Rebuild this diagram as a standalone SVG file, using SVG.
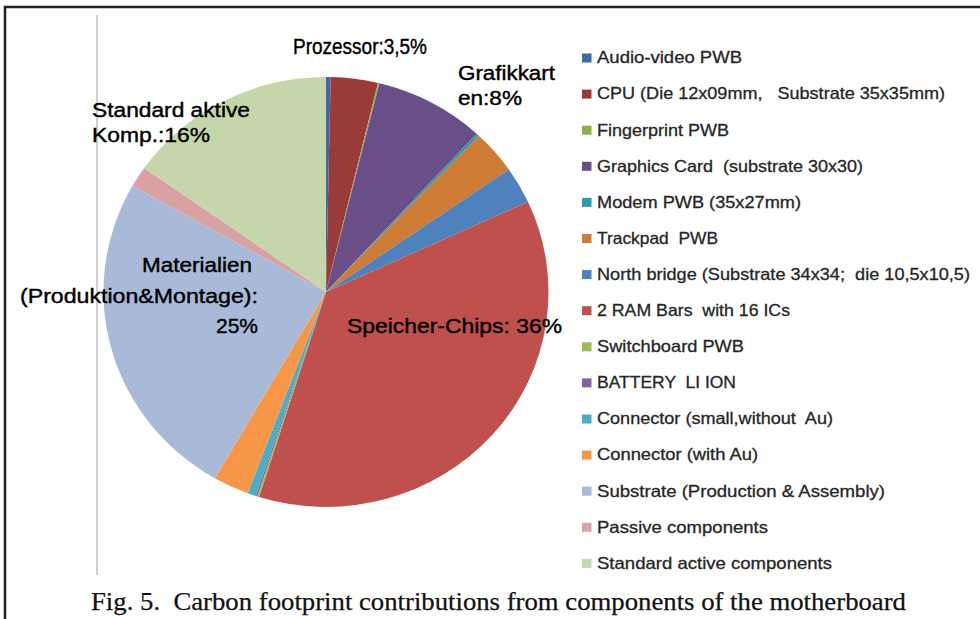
<svg xmlns="http://www.w3.org/2000/svg" width="980" height="619" viewBox="0 0 980 619">
<style>
.lbl{font-family:"Liberation Sans",Arial,sans-serif;font-size:20px;fill:#000;stroke:#000;stroke-width:0.4}
.leg{font-family:"Liberation Sans",Arial,sans-serif;font-size:16.5px;fill:#262626;stroke:#262626;stroke-width:0.3}
.cap{font-family:"Liberation Serif","Times New Roman",serif;font-size:25.5px;fill:#111;stroke:#111;stroke-width:0.25}
</style>
<rect x="0" y="0" width="980" height="619" fill="#fff"/>
<path d="M5 619 V7 H980" fill="none" stroke="#222" stroke-width="2.5"/>
<line x1="97" y1="15" x2="97" y2="575" stroke="#d0d0d0" stroke-width="2"/>
<g id="pie">
<path id="s-audio" d="M326 292 L326 77 A222.5 215 0 0 1 330.66 77.05 Z" fill="#3E6AA8"/>
<path id="s-cpu" d="M326 292 L330.66 77.05 A222.5 215 0 0 1 377.94 82.94 Z" fill="#9B3B39"/>
<path id="s-finger" d="M326 292 L377.94 82.94 A222.5 215 0 0 1 379.45 83.30 Z" fill="#8DB04E"/>
<path id="s-graphics" d="M326 292 L379.45 83.30 A222.5 215 0 0 1 476.61 133.74 Z" fill="#6A4E87"/>
<path id="s-modem" d="M326 292 L476.61 133.74 A222.5 215 0 0 1 478.88 135.79 Z" fill="#2E9AB0"/>
<path id="s-trackpad" d="M326 292 L478.88 135.79 A222.5 215 0 0 1 508.92 169.60 Z" fill="#CD7B35"/>
<path id="s-north" d="M326 292 L508.92 169.60 A222.5 215 0 0 1 527.98 201.82 Z" fill="#4F81BD"/>
<path id="s-ram" d="M326 292 L527.98 201.82 A222.5 215 0 0 1 259.09 497.05 Z" fill="#C0504D"/>
<path id="s-switch" d="M326 292 L259.09 497.05 A222.5 215 0 0 1 257.24 496.48 Z" fill="#9BBB59"/>
<path id="s-battery" d="M326 292 L257.24 496.48 A222.5 215 0 0 1 255.77 496.01 Z" fill="#8064A2"/>
<path id="s-connsmall" d="M326 292 L255.77 496.01 A222.5 215 0 0 1 247.72 493.25 Z" fill="#4BACC6"/>
<path id="s-connau" d="M326 292 L247.72 493.25 A222.5 215 0 0 1 214.75 478.20 Z" fill="#F79646"/>
<path id="s-substrate" d="M326 292 L214.75 478.20 A222.5 215 0 0 1 132.49 185.80 Z" fill="#A8BAD8"/>
<path id="s-passive" d="M326 292 L132.49 185.80 A222.5 215 0 0 1 144.19 168.07 Z" fill="#D9A2A2"/>
<path id="s-standard" d="M326 292 L144.19 168.07 A222.5 215 0 0 1 326 77 Z" fill="#C5D7AA"/>
</g>
<g id="pie-labels">
<text class="lbl" x="293" y="54" style="font-size:21.5px" textLength="134" lengthAdjust="spacingAndGlyphs">Prozessor:3,5%</text>
<text class="lbl" x="458" y="80" textLength="97" lengthAdjust="spacingAndGlyphs">Grafikkart</text>
<text class="lbl" x="458" y="105" textLength="64" lengthAdjust="spacingAndGlyphs">en:8%</text>
<text class="lbl" x="92" y="117" textLength="158" lengthAdjust="spacingAndGlyphs">Standard aktive</text>
<text class="lbl" x="92" y="142" textLength="118" lengthAdjust="spacingAndGlyphs">Komp.:16%</text>
<text class="lbl" x="142" y="272" textLength="110" lengthAdjust="spacingAndGlyphs">Materialien</text>
<text class="lbl" x="20" y="303" textLength="238" lengthAdjust="spacingAndGlyphs">(Produktion&amp;Montage):</text>
<text class="lbl" x="216" y="333" textLength="42" lengthAdjust="spacingAndGlyphs">25%</text>
<text class="lbl" x="347" y="333" textLength="215" lengthAdjust="spacingAndGlyphs">Speicher-Chips: 36%</text>
</g>
<g id="legend">
<g id="leg-audio"><rect x="582" y="53.5" width="9.5" height="9" fill="#3E6AA8"/><text class="leg" x="597" y="63.3" textLength="145" lengthAdjust="spacingAndGlyphs">Audio-video PWB</text></g>
<g id="leg-cpu"><rect x="582" y="89.6" width="9.5" height="9" fill="#9B3B39"/><text class="leg" x="597" y="99.4" textLength="348" lengthAdjust="spacingAndGlyphs" xml:space="preserve">CPU (Die 12x09mm,   Substrate 35x35mm)</text></g>
<g id="leg-finger"><rect x="582" y="125.7" width="9.5" height="9" fill="#8DB04E"/><text class="leg" x="597" y="135.5" textLength="132" lengthAdjust="spacingAndGlyphs">Fingerprint PWB</text></g>
<g id="leg-graphics"><rect x="582" y="161.8" width="9.5" height="9" fill="#6A4E87"/><text class="leg" x="597" y="171.6" textLength="266" lengthAdjust="spacingAndGlyphs" xml:space="preserve">Graphics Card  (substrate 30x30)</text></g>
<g id="leg-modem"><rect x="582" y="197.9" width="9.5" height="9" fill="#2E9AB0"/><text class="leg" x="597" y="207.7" textLength="204" lengthAdjust="spacingAndGlyphs">Modem PWB (35x27mm)</text></g>
<g id="leg-trackpad"><rect x="582" y="234" width="9.5" height="9" fill="#CD7B35"/><text class="leg" x="597" y="243.8" textLength="121" lengthAdjust="spacingAndGlyphs" xml:space="preserve">Trackpad  PWB</text></g>
<g id="leg-north"><rect x="582" y="270.1" width="9.5" height="9" fill="#4F81BD"/><text class="leg" x="597" y="279.9" textLength="373" lengthAdjust="spacingAndGlyphs" xml:space="preserve">North bridge (Substrate 34x34;  die 10,5x10,5)</text></g>
<g id="leg-ram"><rect x="582" y="306.2" width="9.5" height="9" fill="#C0504D"/><text class="leg" x="597" y="316" textLength="193" lengthAdjust="spacingAndGlyphs" xml:space="preserve">2 RAM Bars  with 16 ICs</text></g>
<g id="leg-switch"><rect x="582" y="342.3" width="9.5" height="9" fill="#9BBB59"/><text class="leg" x="597" y="352.1" textLength="147" lengthAdjust="spacingAndGlyphs">Switchboard PWB</text></g>
<g id="leg-battery"><rect x="582" y="378.4" width="9.5" height="9" fill="#8064A2"/><text class="leg" x="597" y="388.2" textLength="139" lengthAdjust="spacingAndGlyphs" xml:space="preserve">BATTERY  LI ION</text></g>
<g id="leg-connsmall"><rect x="582" y="414.5" width="9.5" height="9" fill="#4BACC6"/><text class="leg" x="597" y="424.3" textLength="236" lengthAdjust="spacingAndGlyphs" xml:space="preserve">Connector (small,without  Au)</text></g>
<g id="leg-connau"><rect x="582" y="450.6" width="9.5" height="9" fill="#F79646"/><text class="leg" x="597" y="460.4" textLength="161" lengthAdjust="spacingAndGlyphs">Connector (with Au)</text></g>
<g id="leg-substrate"><rect x="582" y="486.7" width="9.5" height="9" fill="#A8BAD8"/><text class="leg" x="597" y="496.5" textLength="288" lengthAdjust="spacingAndGlyphs">Substrate (Production &amp; Assembly)</text></g>
<g id="leg-passive"><rect x="582" y="522.8" width="9.5" height="9" fill="#D9A2A2"/><text class="leg" x="597" y="532.6" textLength="171" lengthAdjust="spacingAndGlyphs">Passive components</text></g>
<g id="leg-standard"><rect x="582" y="558.9" width="9.5" height="9" fill="#C5D7AA"/><text class="leg" x="597" y="568.7" textLength="235" lengthAdjust="spacingAndGlyphs">Standard active components</text></g>
</g>
<g id="caption">
<text class="cap" x="91" y="610" textLength="815" lengthAdjust="spacingAndGlyphs" xml:space="preserve">Fig. 5.  Carbon footprint contributions from components of the motherboard</text>
</g>
</svg>
